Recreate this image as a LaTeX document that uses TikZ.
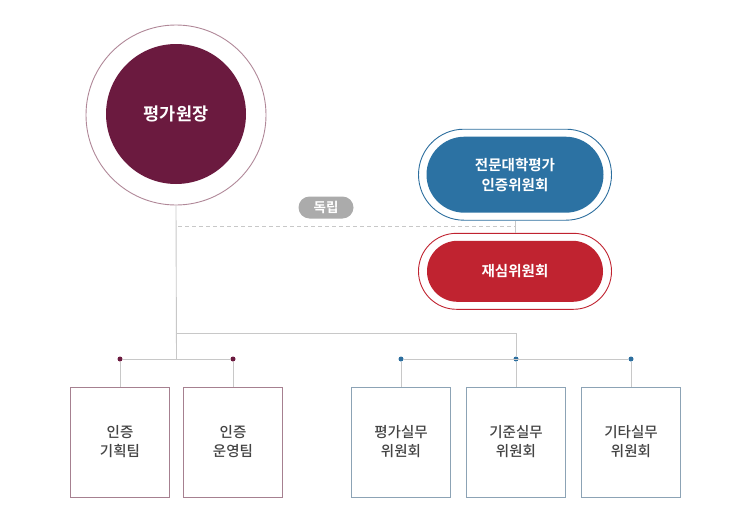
\documentclass[tikz,border=0pt]{standalone}
\usepackage{fontspec}
\setmainfont{Noto Sans CJK KR}
\newfontfamily\krbold{Noto Sans CJK KR Bold}
\newfontfamily\krmed{Noto Sans CJK KR Medium}
\usetikzlibrary{shapes.misc}
\definecolor{maroon}{HTML}{6B1A3F}
\definecolor{mauve}{HTML}{B08898}
\definecolor{boxmauve}{HTML}{A68090}
\definecolor{bluefill}{HTML}{2C72A3}
\definecolor{bluering}{HTML}{2C6E9E}
\definecolor{redfill}{HTML}{C02330}
\definecolor{redring}{HTML}{C02330}
\definecolor{boxblue}{HTML}{8CA3B5}
\definecolor{linegray}{HTML}{C8C8C8}
\definecolor{textgray}{HTML}{444444}
\definecolor{tagfill}{HTML}{ABABAB}
\tikzset{
  conn/.style={draw=linegray, line width=0.9pt},
  teambox/.style={draw=boxmauve, line width=1pt, minimum width=99pt, minimum height=110pt, inner sep=0pt, align=center, text=textgray, font=\krmed\fontsize{14.5}{19}\selectfont},
  combox/.style={draw=boxblue, line width=1pt, minimum width=99pt, minimum height=110pt, inner sep=0pt, align=center, text=textgray, font=\krmed\fontsize{14.5}{19}\selectfont},
  pillring/.style={rounded rectangle, line width=0.9pt, fill=white, inner sep=0pt},
  pillfill/.style={rounded rectangle, inner sep=0pt, text=white, align=center, font=\krbold\fontsize{14.5}{20}\selectfont},
  dotm/.style={circle, fill=maroon, inner sep=0pt, minimum size=5pt},
  dotb/.style={circle, fill=bluering, inner sep=0pt, minimum size=5pt},
}
\begin{document}
\begin{tikzpicture}[x=1pt,y=-1pt]
\useasboundingbox (0,0) rectangle (740,522);
% chairman
\node[circle, draw=mauve, line width=0.9pt, minimum size=180pt, inner sep=0pt] (outer) at (176,115) {};
\node[circle, fill=maroon, minimum size=140pt, inner sep=0pt, text=white, font=\krbold\fontsize{17.5}{20}\selectfont] (chair) at (176,114) {평가원장};
% committees on right
\node[pillring, draw=bluering, minimum width=193pt, minimum height=91pt] (bluering) at (515,174.7) {};
\node[pillfill, fill=bluefill, minimum width=177pt, minimum height=76pt] (blue) at (515,174.7) {전문대학평가\\인증위원회};
\node[pillring, draw=redring, minimum width=193pt, minimum height=76pt] (redring) at (515,271.3) {};
\node[pillfill, fill=redfill, minimum width=176pt, minimum height=61pt] (red) at (515,271.3) {재심위원회};
% independence tag
\node[rounded rectangle, fill=tagfill, minimum width=55pt, minimum height=22pt, inner sep=0pt, text=white, font=\krbold\fontsize{13.5}{16}\selectfont] (tag) at (326,207.5) {독립};
% connectors
\coordinate (dashL) at (178,226.7);
\coordinate (dashR) at (515.5,226.7);
\draw[conn] (bluering.south) -- (redring.north);
\draw[draw=linegray, line width=0.9pt, dash pattern=on 4pt off 3pt] (dashL) -- (dashR);
% bottom boxes
\node[teambox] (t1) at (120,442) {인증\\기획팀};
\node[teambox] (t2) at (233,442) {인증\\운영팀};
\node[combox] (c1) at (401,442) {평가실무\\위원회};
\node[combox] (c2) at (516,442) {기준실무\\위원회};
\node[combox] (c3) at (631,442) {기타실무\\위원회};
% dots
\node[dotm] (d1) at (120,359) {};
\node[dotm] (d2) at (233,359) {};
\node[dotb] (d3) at (401,359) {};
\node[dotb] (d4) at (516,359) {};
\node[dotb] (d5) at (631,359) {};
\coordinate (j1) at (176.5,359);
\coordinate (j2) at (176.5,333);
\coordinate (j3) at (516,333);
\draw[conn] (outer.south) -- (j1);
\draw[conn] (j2) -- (j3) -- (d4);
\draw[conn] (d1) -- (d2);
\draw[conn] (d3) -- (d5);
\draw[conn] (d1) -- (t1.north);
\draw[conn] (d2) -- (t2.north);
\draw[conn] (d3) -- (c1.north);
\draw[conn] (d4) -- (c2.north);
\draw[conn] (d5) -- (c3.north);
\end{tikzpicture}
\end{document}
